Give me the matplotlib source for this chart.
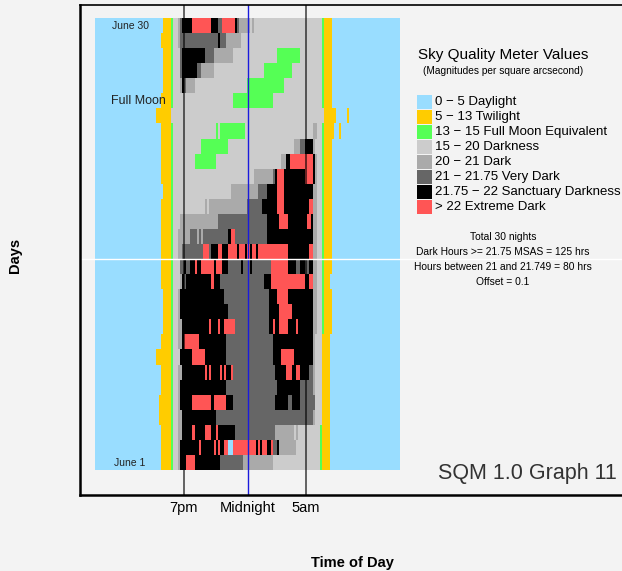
import numpy as np
import matplotlib.pyplot as plt
from matplotlib.colors import ListedColormap
from matplotlib.patches import Rectangle

plt.rcParams['font.family'] = ['Liberation Sans', 'DejaVu Sans']

W, H = 622, 571

# SQM classes: code letter, legend label, colour
codes = ['b', 'y', 'g', 'l', 'm', 'd', 'k', 'r']
labels = ['0 \u2212 5 Daylight', '5 \u2212 13 Twilight', '13 \u2212 15 Full Moon Equivalent',
          '15 \u2212 20 Darkness', '20 \u2212 21 Dark', '21 \u2212 21.75 Very Dark',
          '21.75 \u2212 22 Sanctuary Darkness', '> 22 Extreme Dark']
colors = ['#99ddff', '#ffcc00', '#55ff55', '#cccccc', '#aaaaaa', '#666666', '#000000', '#ff5555']

# one string per night, June 30 first; letter = class, number = count of
# 10 minute readings starting at 4:30pm (outside that it's daylight)
nights = [
    "b5 y4 g1 l2 m1 d1 k5 r9 k3 d2 r6 k1 d1 m5 l1 m1 l32 g1 y4",
    "b4 y5 g1 l2 m1 d18 k1 d3 m7 l38 g1 y4",
    "b5 y4 g1 l3 d1 k11 d4 m9 l21 g11 l10 g1 y4",
    "b5 y4 g1 l3 d1 k7 d2 m6 l24 g13 l14 g1 y4",
    "b5 y4 g1 l3 m1 k1 d1 m4 l25 g17 l18 g1 y4",
    "b4 y5 g1 l28 g19 l23 g1 y4",
    "b2 y7 l72 y6 b5 y1",
    "b4 y5 g1 l20 g1 l1 g12 l32 m2 l2 g1 y5 b2 y1",
    "b4 y5 g1 l13 g13 l31 m3 d2 k4 m1 l3 g1 y4",
    "b4 y5 g1 l10 g10 l31 m2 k2 r11 k1 m1 l2 g1 y4",
    "b4 y5 g1 l38 m9 d1 k1 r3 k10 r4 k1 m1 l2 g1 y4",
    "b5 y4 g1 l27 m13 d4 k5 r3 k14 m2 l2 g1 y4",
    "b4 y5 g1 l15 m1 l1 m18 d7 k7 r3 k12 r2 m2 l2 g1 y4",
    "b4 y5 g1 l3 m18 d23 k6 r4 k9 r2 k1 m2 l2 g1 y4",
    "b4 y5 g1 l2 m6 d3 m1 d1 m1 d12 k1 r2 d15 k22 m2 l2 g1 y4",
    "b4 y5 g1 l2 m2 d10 r3 d1 k3 r2 k3 r4 k1 r3 k1 r1 k1 r2 k1 r14 k10 r2 m2 l2 g1 y4",
    "b4 y5 g1 l3 d2 k1 d2 k2 r1 k2 r6 k1 r3 k3 d6 k1 d3 k1 d9 r8 k4 d2 k2 d2 k2 m2 l2 g1 y4",
    "b4 y5 g1 l3 m1 k1 d1 k12 r1 k3 d21 k3 r16 k2 r2 m2 l2 g1 y3",
    "b5 y4 g1 l2 m1 k21 d21 k4 r5 k12 m2 l2 g1 y4",
    "b5 y4 g1 l2 m1 k23 d19 k5 r6 k10 m2 l2 g1 y4",
    "b5 y4 g1 l2 m2 k13 r1 k3 r1 k2 r5 d16 k2 r1 k2 r4 k4 r1 k7 m2 l2 g1 y4",
    "b4 y5 g1 l2 m2 k1 r7 k13 d22 k19 m1 l3 y4",
    "b2 y7 g1 l3 k6 r6 k10 d22 k4 r6 k9 m1 l3 y4",
    "b4 y5 g1 l2 m2 k11 r1 k1 r1 k4 r1 k1 r1 k2 r1 d20 k5 r3 k2 r2 k4 d2 m1 l3 y4",
    "b4 y5 g1 l2 m1 k22 d24 k11 d6 m1 l3 y4",
    "b3 y6 g1 l2 m1 k6 r9 k1 r6 k3 d20 k6 d2 k4 d7 l3 y4",
    "b3 y6 g1 l2 m2 k16 d46 m1 l3 y4",
    "b4 y5 g1 l2 m2 k5 r1 k5 r3 k2 r1 k8 d19 m9 l1 m1 l10 g1 y4",
    "b4 y5 g1 l2 m1 k9 r1 k6 r1 k1 r1 k2 r2 b2 r11 k1 r1 k1 r2 k2 r1 d2 k1 m8 l11 g1 y4",
    "b4 y5 g1 l2 m1 k3 r4 k12 d11 m14 l22 g1 y4",
]

first_reading = 4.5   # hours after noon
reading_step = 1 / 6  # hours

tick_hours = [7, 12, 16.58]
tick_labels = ['7pm', 'Midnight', '5am']
marker_day = 14

stats = ['Total 30 nights', 'Dark Hours >= 21.75 MSAS = 125 hrs',
         'Hours between 21 and 21.749 = 80 hrs', 'Offset = 0.1']

# expand the run-length strings into a day x reading grid
n_days = len(nights)
grid = np.zeros((n_days, int(round(24 / reading_step))), dtype=int)
c0 = int(round(first_reading / reading_step))
for i, night in enumerate(nights):
    vals = []
    for tok in night.split():
        vals += [codes.index(tok[0])] * int(tok[1:])
    grid[i, c0:c0 + len(vals)] = vals

fig = plt.figure(figsize=(W / 100, H / 100), dpi=100, facecolor='#f3f3f3')
ax = fig.add_axes([80 / W, 76 / H, 542 / W, 490 / H], facecolor='#f3f3f3')

ax.imshow(grid, cmap=ListedColormap(colors), vmin=-0.5, vmax=7.5, aspect='auto',
          interpolation='nearest', extent=[0, 24, 0, n_days])

hpp = 24 / 305      # hours per pixel
dpp = n_days / 451.5  # days per pixel
ax.set_xlim(-15 * hpp, 527 * hpp)
ax.set_ylim(-25 * dpp, n_days + 13.5 * dpp)

ax.axvline(tick_hours[0], color='black', alpha=0.6, lw=1.4)
ax.axvline(tick_hours[1], color='#1a1add', lw=1)
ax.axvline(tick_hours[2], color='black', alpha=0.6, lw=1.4)
ax.axhline(marker_day, color='white', lw=1)

ax.set_xticks(tick_hours)
ax.set_xticklabels(tick_labels, fontsize=10.5)
ax.tick_params(axis='x', length=0, pad=4)
ax.set_yticks([])
ax.spines['right'].set_visible(False)
ax.spines['left'].set_linewidth(1.8)
ax.spines['bottom'].set_linewidth(1.8)
ax.spines['top'].set_linewidth(1.2)

ax.text(2.83, n_days - 0.5, 'June 30', fontsize=7.5, ha='center', va='center', color='#222222')
ax.text(2.75, 0.45, 'June 1', fontsize=7.5, ha='center', va='center', color='#222222')
ax.text(3.42, n_days - 5.5, 'Full Moon', fontsize=9, ha='center', va='center', color='#222222')

fig.text(352 / W, 1 - 563 / H, 'Time of Day', fontsize=10.5, weight='bold', ha='center', va='center')
fig.text(15 / W, 1 - 255 / H, 'Days', fontsize=10.5, weight='bold', rotation=90, ha='center', va='center')

# legend
fig.text(503 / W, 1 - 55 / H, 'Sky Quality Meter Values', fontsize=11, ha='center', va='center')
fig.text(503 / W, 1 - 71.5 / H, '(Magnitudes per square arcsecond)', fontsize=7.3, ha='center', va='center')
for i, (lab, col) in enumerate(zip(labels, colors)):
    top = 94 + 15.05 * i
    fig.add_artist(Rectangle((417 / W, 1 - (top + 15) / H), 15 / W, 14.5 / H,
                             transform=fig.transFigure, facecolor=col, edgecolor='none'))
    fig.text(435 / W, 1 - (top + 7.5) / H, lab, fontsize=9.5, ha='left', va='center')

for i, s in enumerate(stats):
    fig.text(503 / W, 1 - (236.5 + 15.3 * i) / H, s, fontsize=7.4, ha='center', va='center')

fig.text(617 / W, 1 - 474 / H, 'SQM 1.0 Graph 11', fontsize=15.5, ha='right', va='center', color='#333333')

fig.savefig('out.png', dpi=100, facecolor=fig.get_facecolor())
